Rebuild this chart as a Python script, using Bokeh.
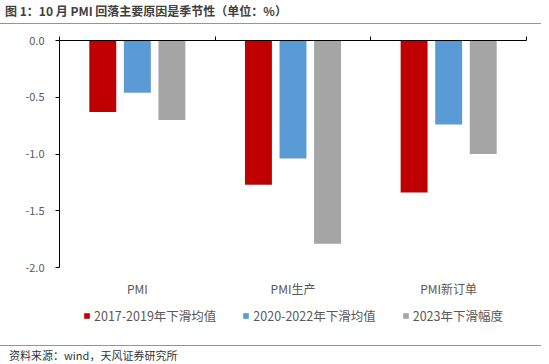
from bokeh.plotting import figure
from bokeh.layouts import column
from bokeh.models import (Range1d, LinearAxis, FixedTicker, NumeralTickFormatter,
                          Legend, LegendItem, ColumnDataSource, Div)
from bokeh.transform import dodge
from bokeh.embed import file_html
from bokeh.resources import INLINE

categories = ["PMI", "PMI生产", "PMI新订单"]
series_names = ["2017-2019年下滑均值", "2020-2022年下滑均值", "2023年下滑幅度"]
avg_2017_2019 = [-0.63, -1.27, -1.34]
avg_2020_2022 = [-0.46, -1.04, -0.74]
drop_2023 = [-0.70, -1.79, -1.00]
y_ticks = [-2.0, -1.5, -1.0, -0.5, 0.0]
title_text = "图 1：10 月 PMI 回落主要原因是季节性（单位：%）"
source_text = "资料来源：wind，天风证券研究所"

colors = ["#C00000", "#5B9BD5", "#A5A5A5"]
ORANGE = "#EE7D2A"
FONT = "Noto Sans CJK SC"

W = 541
TOP_H = 28
MAIN_H = 272
LEG_H = 38
BOT_H = 22
ML, MT = 59, 12
FW, FH = 467, 227
MR = W - ML - FW

# ---- title strip
title_div = Div(width=W, height=TOP_H, margin=0, text=(
    f'<div style="font-family:\'{FONT}\';font-weight:bold;font-size:12px;color:#404040;'
    f'line-height:16px;padding:3px 0 0 5px;height:20px;width:{W - 5}px;box-sizing:content-box;'
    f'border-bottom:1.3px solid {ORANGE};white-space:nowrap;">{title_text}</div>'))

# ---- main chart
n = len(categories)
centers = [i + 0.5 for i in range(n)]
src = ColumnDataSource(dict(x=centers, s0=avg_2017_2019, s1=avg_2020_2022, s2=drop_2023))
keys = ["s0", "s1", "s2"]
offsets = [-0.222, 0.0, 0.222]

p = figure(width=W, height=MAIN_H, output_backend="svg", toolbar_location=None,
           x_range=Range1d(0, n), y_range=Range1d(-2, 0), title=None,
           x_axis_location=None,
           min_border_left=ML, min_border_top=MT, min_border_right=MR,
           min_border_bottom=MAIN_H - MT - FH)
p.outline_line_color = None
p.xgrid.visible = False
p.ygrid.visible = False

for i, (key, off) in enumerate(zip(keys, offsets)):
    p.vbar(x=dodge("x", off), top=0, bottom=key, width=0.173,
           source=src, fill_color=colors[i], line_color=None)

ya = p.yaxis[0]
ya.ticker = FixedTicker(ticks=y_ticks)
ya.formatter = NumeralTickFormatter(format="0.0")
ya.axis_line_color = "black"
ya.major_tick_line_color = "black"
ya.major_tick_out = 4
ya.major_tick_in = 0
ya.minor_tick_line_color = None
ya.major_label_text_font = FONT
ya.major_label_text_font_size = "11px"
ya.major_label_text_color = "#595959"
ya.major_label_standoff = 11

xa = LinearAxis(ticker=FixedTicker(ticks=centers))
xa.major_label_overrides = {c: lab for c, lab in zip(centers, categories)}
xa.axis_line_color = None
xa.major_tick_line_color = None
xa.minor_tick_line_color = None
xa.major_label_text_font = FONT
xa.major_label_text_font_size = "12px"
xa.major_label_text_color = "#595959"
xa.major_label_standoff = 6
p.add_layout(xa, "below")

bounds = list(range(n + 1))
ta = LinearAxis(ticker=FixedTicker(ticks=bounds))
ta.major_label_overrides = {k: "" for k in bounds}
ta.axis_line_color = "black"
ta.major_tick_line_color = "black"
ta.major_tick_out = 4
ta.major_tick_in = 0
ta.minor_tick_line_color = None
ta.major_label_text_font_size = "1px"
p.add_layout(ta, "above")

# ---- legend strip (same series drawn outside its view, only the legend shows)
pl = figure(width=W, height=LEG_H, output_backend="svg", toolbar_location=None,
            x_range=Range1d(0, n), y_range=Range1d(1, 2), title=None,
            x_axis_location=None, y_axis_location=None,
            min_border_left=ML, min_border_right=MR, min_border_top=0, min_border_bottom=0)
pl.outline_line_color = None
pl.xgrid.visible = False
pl.ygrid.visible = False
leg_renderers = [pl.vbar(x=dodge("x", off), top=0, bottom=key, width=0.173, source=src,
                         fill_color=c, line_color=None)
                 for key, off, c in zip(keys, offsets, colors)]
legend = Legend(items=[LegendItem(label=s, renderers=[r]) for s, r in zip(series_names, leg_renderers)],
                orientation="horizontal", location=(24, 13))
legend.spacing = 26
legend.label_standoff = 4
legend.glyph_width = 7
legend.glyph_height = 7
legend.label_height = 7
legend.padding = 0
legend.margin = 0
legend.border_line_color = None
legend.background_fill_alpha = 0
legend.label_text_font = FONT
legend.label_text_font_size = "12.5px"
legend.label_text_color = "#595959"
pl.add_layout(legend, "center")

# ---- source strip
source_div = Div(width=W, height=BOT_H, margin=0, text=(
    f'<div style="margin-top:7px;border-top:1.3px solid {ORANGE};width:{W}px;'
    f'font-family:\'{FONT}\';font-size:11px;color:#333333;line-height:14px;'
    f'padding:2px 0 0 9px;white-space:nowrap;box-sizing:border-box;">{source_text}</div>'))

layout = column(title_div, p, pl, source_div, spacing=0)
open("out.html", "w").write(file_html(layout, INLINE))
